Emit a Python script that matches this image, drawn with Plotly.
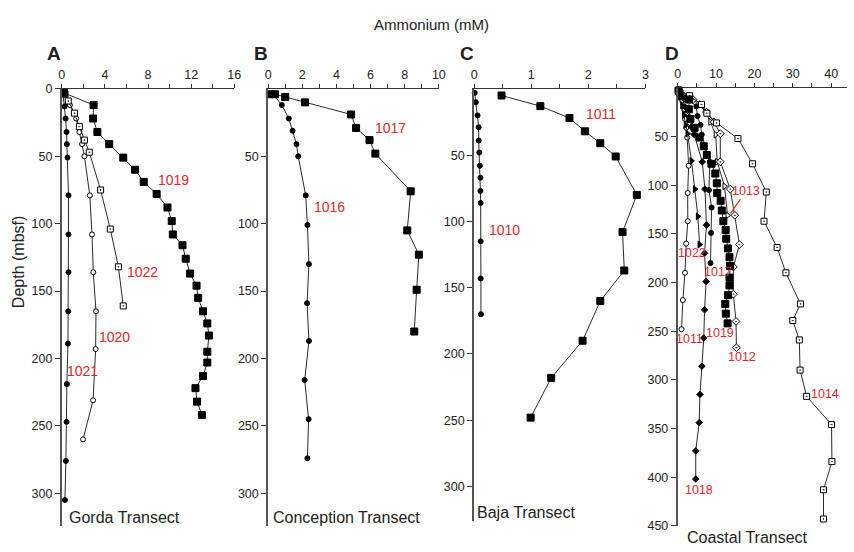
import plotly.graph_objects as go

W, H = 854, 552


def pxx(x):
    return x / W


def pyy(y):
    return 1 - y / H


# ---------------- Data ----------------
# Panel A - Gorda Transect
a1021_nh4 = [0.1, 0.26, 0.35, 0.44, 0.47, 0.53, 0.62, 0.62, 0.62, 0.6, 0.57, 0.47, 0.44, 0.38, 0.29]
a1021_dep = [3, 13, 22, 32, 41, 51, 79, 108, 136, 165, 189, 219, 247, 276, 305]
a1020_nh4 = [0.2, 0.75, 1.33, 1.63, 1.88, 2.1, 2.6, 2.8, 2.92, 3.17, 3.14, 2.9, 1.97]
a1020_dep = [3, 12, 22, 32, 41, 50, 79, 108, 136, 165, 193, 231, 260]
a1022_nh4 = [0.3, 0.6, 1.17, 1.63, 2.1, 2.55, 3.6, 4.5, 5.25, 5.7]
a1022_dep = [4, 9, 18, 28, 38, 47, 75, 104, 132, 161]
a1019_nh4 = [0.2, 2.95, 2.9, 3.3, 4.4, 5.7, 6.8, 7.6, 8.8, 9.8, 10.2, 10.3, 11.2, 11.5, 11.9,
             12.5, 12.65, 13.1, 13.5, 13.65, 13.5, 13.5, 13.1, 12.4, 12.55, 13.0]
a1019_dep = [3, 12, 22, 32, 41, 51, 60, 69, 78, 88, 98, 108, 116, 126, 137,
             146, 155, 165, 174, 183, 195, 203, 213, 222, 232, 242]

# Panel B - Conception Transect
b1016_nh4 = [0.3, 0.8, 1.21, 1.43, 1.66, 1.76, 2.2, 2.3, 2.39, 2.28, 2.39, 2.14, 2.37, 2.3]
b1016_dep = [4, 12, 22, 31, 41, 50, 79, 101, 130, 159, 187, 216, 245, 274]
b1017_nh4 = [0.1, 0.4, 1.0, 2.16, 4.86, 5.15, 5.94, 6.28, 8.35, 8.15, 8.83, 8.7, 8.56]
b1017_dep = [4, 4, 6, 10, 19, 29, 38, 48, 76, 105, 123, 149, 180]

# Panel C - Baja Transect
c1010_nh4 = [0.01, 0.03, 0.06, 0.08, 0.08, 0.09, 0.1, 0.11, 0.11, 0.115, 0.115, 0.115, 0.12]
c1010_dep = [3, 10, 20, 29, 39, 48, 58, 67, 77, 86, 115, 143, 170]
c1011_nh4 = [0.48, 1.16, 1.67, 1.94, 2.21, 2.48, 2.85, 2.6, 2.63, 2.21, 1.9, 1.35, 0.99]
c1011_dep = [5, 13, 22, 32, 41, 51, 80, 108, 137, 160, 190, 218, 248]

# Panel D - Coastal Transect (additional sites)
d1018_nh4 = [0.3, 1.3, 2.0, 3.0, 3.6, 4.3, 6.4, 7.1, 7.5, 7.0, 7.4, 7.0, 6.8, 6.3, 5.8, 5.6, 4.7, 4.7]
d1018_dep = [2, 10, 20, 30, 40, 48, 76, 104, 141, 170, 199, 228, 257, 286, 315, 344, 373, 402]
d1013_nh4 = [0.3, 3.0, 6.0, 7.3, 8.5, 9.9, 10.3, 12.2, 13.0]
d1013_dep = [2, 8, 17, 25, 35, 48, 76, 101, 131]
d1012_nh4 = [0.5, 4.0, 7.5, 9.5, 11.1, 11.1, 13.7, 14.9, 16.1, 14.5, 14.5, 15.2, 15.3]
d1012_dep = [3, 12, 25, 35, 47, 76, 104, 131, 161, 184, 212, 240, 267]
d1014_nh4 = [0.3, 3.1, 6.2, 7.6, 10.1, 15.7, 19.5, 23.1, 22.5, 25.9, 28.2, 32.0, 30.0, 31.7,
             31.9, 33.6, 40.1, 40.2, 38.0, 38.0]
d1014_dep = [2, 8, 17, 26, 36, 52, 78, 107, 137, 164, 190, 222, 239, 259,
             290, 317, 346, 384, 413, 443]

x_ticks_a = [0, 4, 8, 12, 16]
x_ticks_b = [0, 2, 4, 6, 8, 10]
x_ticks_c = [0, 1, 2, 3]
x_ticks_d = [0, 10, 20, 30, 40]
y_ticks_a = [0, 50, 100, 150, 200, 250, 300]
y_ticks_bc = [50, 100, 150, 200, 250, 300]
y_ticks_d = [50, 100, 150, 200, 250, 300, 350, 400, 450]

FONT = "Liberation Sans, Arial, Helvetica, sans-serif"
RED = "#e2262b"
LINE = "#2a2a2a"

fig = go.Figure()


def add(ax, vals, dep, symbol, size, fill="black"):
    n = "" if ax == 1 else str(ax)
    fig.add_trace(go.Scatter(
        x=vals, y=dep, mode="lines+markers", xaxis="x" + n, yaxis="y" + n,
        line=dict(color=LINE, width=1),
        marker=dict(symbol=symbol, size=size, color=fill,
                    line=dict(color="black", width=1)),
        showlegend=False, hoverinfo="skip", cliponaxis=False))


# Panel A
add(1, a1021_nh4, a1021_dep, "circle", 5)
add(1, a1020_nh4, a1020_dep, "circle", 5, "white")
add(1, a1022_nh4, a1022_dep, "square-dot", 6, "white")
add(1, a1019_nh4, a1019_dep, "square", 7)
# Panel B
add(2, b1016_nh4, b1016_dep, "circle", 5)
add(2, b1017_nh4, b1017_dep, "square", 7)
# Panel C
add(3, c1010_nh4, c1010_dep, "circle", 5)
add(3, c1011_nh4, c1011_dep, "square", 7)
# Panel D
add(4, c1011_nh4, c1011_dep, "circle", 5, "white")
add(4, a1022_nh4, a1022_dep, "triangle-right", 6)
add(4, d1018_nh4, d1018_dep, "diamond", 5)
add(4, b1017_nh4, b1017_dep, "circle", 5)
add(4, d1013_nh4, d1013_dep, "triangle-right", 6, "white")
add(4, d1012_nh4, d1012_dep, "diamond-dot", 6, "white")
add(4, d1014_nh4, d1014_dep, "square-dot", 6, "white")
add(4, a1019_nh4, a1019_dep, "square", 7)


def xax(dom_px, rng, ticks, minor, anchor):
    return dict(domain=[pxx(dom_px[0]), pxx(dom_px[1])], range=rng, side="top",
                anchor=anchor, tickvals=ticks, ticks="outside", ticklen=4,
                tickwidth=1, tickcolor="#333", showline=True, linecolor="#333",
                linewidth=1, showgrid=False, zeroline=False,
                tickfont=dict(family=FONT, size=12.5, color="#222"),
                minor=dict(dtick=minor, tick0=0, ticks="outside", ticklen=4,
                           tickwidth=1, tickcolor="#333"))


def yax(dom_px, rng, ticks, anchor):
    return dict(domain=[pyy(dom_px[1]), pyy(dom_px[0])], range=rng,
                anchor=anchor, tickvals=ticks, ticks="outside", ticklen=5,
                tickwidth=1, tickcolor="#333", showline=True, linecolor="#555",
                linewidth=1.8, showgrid=False, zeroline=False,
                tickfont=dict(family=FONT, size=12.5, color="#222"))


layout = dict(
    width=W, height=H, margin=dict(l=0, r=0, t=0, b=0),
    paper_bgcolor="white", plot_bgcolor="white", showlegend=False,
    xaxis=xax([59.5, 234], [0, 16], x_ticks_a, 2, "y"),
    yaxis=yax([84, 532.7], [324.4, 0], y_ticks_a, "x"),
    xaxis2=xax([268.3, 441], [0, 10], x_ticks_b, 1, "y2"),
    yaxis2=yax([84, 532.7], [324.4, 0], y_ticks_bc, "x2"),
    xaxis3=xax([476.7, 650], [0, 3], x_ticks_c, 0.5, "y3"),
    yaxis3=yax([84, 527], [325.7, 0], y_ticks_bc, "x3"),
    xaxis4=xax([682.7, 853.5], [0, 44], x_ticks_d, 5, "y4"),
    yaxis4=yax([83, 532.3], [450, 0], y_ticks_d, "x4"),
)
fig.update_layout(**layout)

ann = []


def text(x, y, s, size=14, color=RED, bold=False, xanchor="center"):
    ann.append(dict(x=pxx(x), y=pyy(y), xref="paper", yref="paper", text=("<b>%s</b>" % s) if bold else s,
                    showarrow=False, xanchor=xanchor, yanchor="middle",
                    font=dict(family=FONT, size=size, color=color)))


text(434, 18, "Ammonium (mM)", 15, "#222")
for lx, s in [(52, "A"), (261, "B"), (469, "C"), (677, "D")]:
    text(lx, 48, s, 19, "#222", bold=True)
text(65, 524, "Gorda Transect", 16, "#222", xanchor="left")
text(271, 524, "Conception Transect", 16, "#222", xanchor="left")
text(478, 519, "Baja Transect", 16, "#222", xanchor="left")
text(690, 544, "Coastal Transect", 16, "#222", xanchor="left")
ann.append(dict(x=pxx(16), y=pyy(262), xref="paper", yref="paper", text="Depth (mbsf)",
                xanchor="center", yanchor="middle",
                showarrow=False, textangle=-90, font=dict(family=FONT, size=16, color="#222")))

# Panel labels
for (x, y, s) in [(173, 177, "1019"), (141, 272, "1022"), (113, 339, "1020"), (80, 373, "1021"),
                  (392, 124, "1017"), (330, 205, "1016"),
                  (605, 110, "1011"), (507, 229, "1010")]:
    text(x, y, s, 14)
for (x, y, s) in [(697, 252, "1022"), (723, 272, "1017"), (725, 334, "1019"), (695, 341, "1011"),
                  (748, 359, "1012"), (832, 397, "1014"), (704, 496, "1018")]:
    text(x, y, s, 12.5)
ann.append(dict(x=pxx(736), y=pyy(212), xref="paper", yref="paper", text="1013",
                showarrow=True, arrowhead=0, arrowwidth=1.2, arrowcolor=RED,
                ax=16, ay=-23, font=dict(family=FONT, size=12.5, color=RED)))

fig.update_layout(annotations=ann)
fig.write_html("out.html")
